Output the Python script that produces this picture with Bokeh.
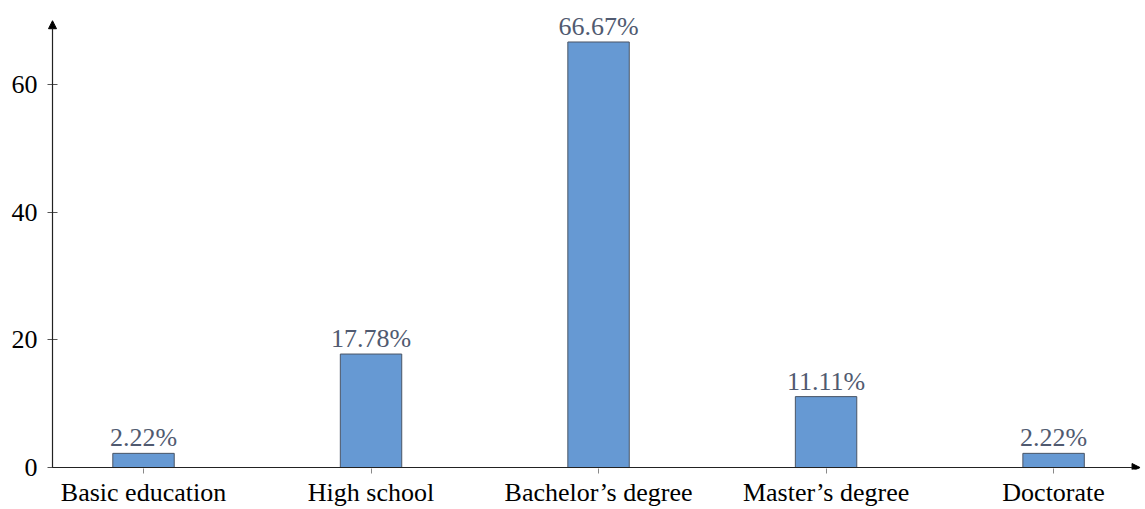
from bokeh.plotting import figure
from bokeh.models import Range1d, FixedTicker, Arrow, NormalHead, ColumnDataSource, LabelSet
from bokeh.embed import file_html
from bokeh.resources import INLINE

categories = ["Basic education", "High school", "Bachelor\u2019s degree", "Master\u2019s degree", "Doctorate"]
values = [2.22, 17.78, 66.67, 11.11, 2.22]
y_ticks = [0, 20, 40, 60]

xs = list(range(len(categories)))
labels = [f"{v:.2f}%" for v in values]
src = ColumnDataSource(dict(x=xs, top=values, label=labels))

FONT = "Liberation Serif"
FS = "26px"

p = figure(width=1145, height=509, output_backend="svg", toolbar_location=None,
           x_range=Range1d(-0.422, 4.404), y_range=Range1d(-0.31, 71.29),
           min_border_left=47, min_border_right=0, min_border_top=12, min_border_bottom=38)
p.outline_line_color = None
p.grid.grid_line_color = None
p.background_fill_color = "white"

p.vbar(x="x", top="top", width=0.27, source=src, fill_color="#6699d3", line_color="#4a5566", line_width=1)

p.add_layout(LabelSet(x="x", y="top", text="label", source=src, text_align="center",
                      text_baseline="bottom", y_offset=1, text_color="#505a70",
                      text_font=FONT, text_font_size=FS))

p.xaxis.ticker = FixedTicker(ticks=xs)
p.xaxis.major_label_overrides = {i: c for i, c in enumerate(categories)}
p.xaxis.axis_line_color = None
p.xaxis.major_tick_in = 1
p.xaxis.major_tick_out = 4
p.xaxis.major_tick_line_color = "#888888"
p.xaxis.minor_tick_line_color = None
p.xaxis.major_label_standoff = 4
p.yaxis.ticker = FixedTicker(ticks=y_ticks)
p.yaxis.axis_line_color = None
p.yaxis.major_tick_in = 10
p.yaxis.major_tick_out = 0
p.yaxis.major_tick_line_color = "#555555"
p.yaxis.minor_tick_line_color = None
p.yaxis.major_label_standoff = 10
for ax in (p.xaxis, p.yaxis):
    ax.major_label_text_font = FONT
    ax.major_label_text_font_size = FS
    ax.major_label_text_color = "black"

p.add_layout(Arrow(x_start=-0.4, y_start=0, x_end=4.38, y_end=0, line_color="#222222", line_width=1.2,
                   end=NormalHead(size=8, fill_color="black", line_color="black")))
p.add_layout(Arrow(x_start=-0.4, y_start=0, x_end=-0.4, y_end=70, line_color="#222222", line_width=1.2,
                   end=NormalHead(size=8, fill_color="black", line_color="black")))

open("out.html", "w").write(file_html(p, INLINE))
